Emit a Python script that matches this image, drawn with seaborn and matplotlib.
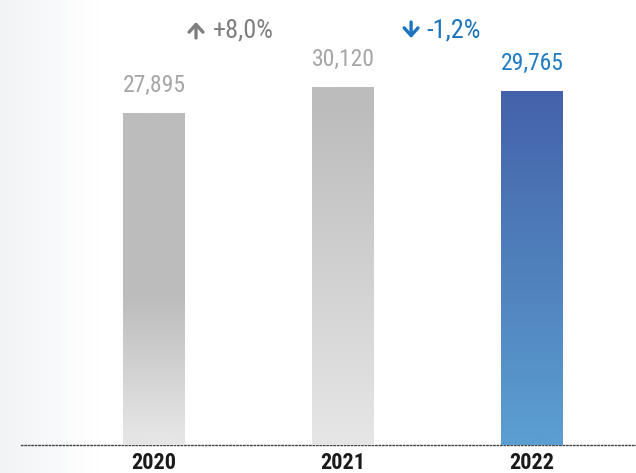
import matplotlib
matplotlib.use("Agg")
import matplotlib.pyplot as plt
import numpy as np
import pandas as pd
import seaborn as sns

# Données
annees = ["2020", "2021", "2022"]
valeurs = [27895, 30120, 29765]
etiquettes = ["27,895", "30,120", "29,765"]
variations = ["+8,0%", "-1,2%"]
sens = [1, -1]  # hausse / baisse

# Couleurs
gris_haut, gris_bas = "#bcbcbc", "#e5e5e5"
bleu_haut, bleu_bas = "#4462a9", "#5b9dd0"
couleurs_etiquettes = ["#a6a6a6", "#a6a6a6", "#1f7bc2"]
couleurs_variations = ["#7f7f7f", "#1c75bc"]
debut_degrade = [0.55, 0.05, 0.0]

sns.set_style("white")
plt.rcParams["font.family"] = ["Roboto Condensed", "DejaVu Sans"]

df = pd.DataFrame({"annee": annees, "valeur": valeurs})

fig = plt.figure(figsize=(6.36, 4.73), dpi=100)

# 0. fond dégradé à gauche
ax_bg = fig.add_axes([0, 0, 1, 1], zorder=-1)
fond = np.ones((1, 636, 3))
t = np.clip(np.arange(636) / 100.0, 0, 1)
base = np.array([0.945, 0.953, 0.961])
fond[0] = base + (1 - base) * t[:, None]
ax_bg.imshow(fond, aspect="auto", extent=[0, 1, 0, 1])
ax_bg.axis("off")

ax = fig.add_axes([21 / 636, 28 / 473, 615 / 636, 445 / 473])
ax.patch.set_alpha(0)

# 1. barres
sns.barplot(ax=ax, data=df, x="annee", y="valeur", width=0.328, color="#cccccc")

# 2. dégradés dans les barres
for i, barre in enumerate(ax.patches):
    x0, y0 = barre.get_x(), barre.get_y()
    w, h = barre.get_width(), barre.get_height()
    if i == 2:
        c1, c2 = np.array(matplotlib.colors.to_rgb(bleu_haut)), np.array(matplotlib.colors.to_rgb(bleu_bas))
    else:
        c1, c2 = np.array(matplotlib.colors.to_rgb(gris_haut)), np.array(matplotlib.colors.to_rgb(gris_bas))
    d = debut_degrade[i]
    s = np.clip((np.linspace(0, 1, 256) - d) / (0.97 - d), 0, 1)
    grad = c1 + (c2 - c1) * s[:, None]
    im = ax.imshow(grad[:, None, :], aspect="auto", extent=[x0, x0 + w, y0, y0 + h],
                   origin="upper", zorder=3)
    im.set_clip_path(barre)
    barre.set_alpha(0)

# imshow modifie les limites : on les fixe après
ax.set_xlim(-0.704, 2.55)
ax.set_ylim(0, 37400)

# 3. étiquettes de valeurs
for i, v in enumerate(valeurs):
    ax.annotate(etiquettes[i], (i, v), xytext=(0, 11.5), textcoords="offset points",
                ha="center", va="bottom", fontsize=17,
                color=couleurs_etiquettes[i])

# 4. variations (flèche + pourcentage)
y_var = (445 - 30) / 445 * 37400
demi = 8 / 445 * 37400
pos_fleche = [0.222, 1.36]
pos_texte = [0.31, 1.44]
for k in range(2):
    ax.annotate("", xy=(pos_fleche[k], y_var + sens[k] * demi),
                xytext=(pos_fleche[k], y_var - sens[k] * demi),
                arrowprops=dict(arrowstyle="->,head_length=0.55,head_width=0.5",
                                lw=2.4, color=couleurs_variations[k],
                                shrinkA=0, shrinkB=0))
    ax.text(pos_texte[k], y_var, variations[k], ha="left", va="center", fontsize=19,
            color=couleurs_variations[k])

# 5. axes
ax.set_xlabel("")
ax.set_ylabel("")
ax.set_yticks([])
ax.tick_params(axis="x", length=0, pad=5)
for lab in ax.get_xticklabels():
    lab.set_fontsize(16)
    lab.set_fontweight("bold")
    lab.set_color("#1a1a1a")
for s in ["top", "right", "left"]:
    ax.spines[s].set_visible(False)
ax.spines["bottom"].set_linestyle((0, (1, 1.5)))
ax.spines["bottom"].set_color("#444444")
ax.spines["bottom"].set_linewidth(1)

plt.savefig("out.png", dpi=100)
